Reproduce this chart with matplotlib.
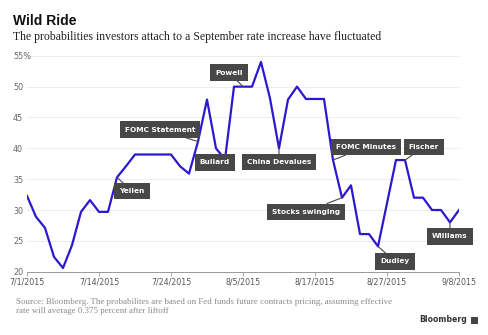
import matplotlib
matplotlib.use('Agg')
import matplotlib.pyplot as plt
from matplotlib.patches import Rectangle

# trading-day series, one value per session (percent)
probability = [32.3, 28.9, 27.1, 22.4, 20.6, 24.3, 29.7, 31.6, 29.7, 29.7,
               35.3, 37.1, 39.0, 39.0, 39.0, 39.0, 39.0, 37.1, 35.9, 41.1,
               47.9, 40.0, 38.2, 50.0, 50.0, 50.0, 54.0, 48.1, 40.0, 47.9,
               50.0, 48.0, 48.0, 48.0, 38.1, 32.0, 34.0, 26.1, 26.1, 24.1,
               31.1, 38.1, 38.1, 32.0, 32.0, 30.0, 30.0, 28.0, 30.0]
tick_idx = [0, 8, 16, 24, 32, 40, 48]
tick_labels = ['7/1/2015', '7/14/2015', '7/24/2015', '8/5/2015',
               '8/17/2015', '8/27/2015', '9/8/2015']
y_ticks = [20, 25, 30, 35, 40, 45, 50, 55]

# event callouts: (session index, label)
events = [(24, 'Powell'), (19, 'FOMC Statement'), (22, 'Bullard'),
          (10, 'Yellen'), (28, 'China Devalues'), (34, 'FOMC Minutes'),
          (42, 'Fischer'), (35, 'Stocks swinging'), (39, 'Dudley'),
          (47, 'Williams')]
# box offsets from the point, in pixels
offsets = {'Powell': (-14, 14), 'FOMC Statement': (-38, 12),
           'Bullard': (-10, -3), 'Yellen': (15, -14),
           'China Devalues': (0, -14), 'FOMC Minutes': (33, 13),
           'Fischer': (19, 13), 'Stocks swinging': (-36, -14),
           'Dudley': (17, -15), 'Williams': (0, -14)}

W, H = 488, 335
fig = plt.figure(figsize=(W / 100, H / 100), dpi=100)
fig.patch.set_facecolor('white')
ax = fig.add_axes([27 / W, 1 - 271.7 / H, 432 / W, (271.7 - 55.8) / H])

x = list(range(len(probability)))
ax.plot(x, probability, color='#2c18cf', lw=1.6, zorder=3)

ax.set_xlim(0, 48)
ax.set_ylim(20, 55)
ax.set_yticks(y_ticks)
ax.set_yticklabels([str(v) for v in y_ticks[:-1]] + ['55%'])
ax.set_xticks(tick_idx)
ax.set_xticklabels(tick_labels)
for lbl in ax.get_yticklabels():
    lbl.set_horizontalalignment('left')
ax.tick_params(axis='y', length=0, pad=10, labelsize=5.8, labelcolor='#666666')
ax.tick_params(axis='x', length=3, width=0.6, color='#999999', pad=1.5,
               labelsize=5.7, labelcolor='#555555')
ax.grid(axis='y', color='#ececec', lw=0.7, zorder=0)
for s in ['top', 'right', 'left']:
    ax.spines[s].set_visible(False)
ax.spines['bottom'].set_color('#999999')
ax.spines['bottom'].set_linewidth(0.7)

for idx, name in events:
    dx, dy = offsets[name]
    ax.annotate(name, xy=(idx, probability[idx]), xytext=(dx, dy),
                textcoords='offset pixels', ha='center', va='center',
                fontsize=5.3, fontweight='bold', color='white', zorder=5,
                bbox=dict(boxstyle='square,pad=0.7', fc='#474747', ec='none'),
                arrowprops=dict(arrowstyle='-', color='#474747', lw=0.8,
                                shrinkA=0, shrinkB=0))

fig.text(13 / W, 1 - 21 / H, 'Wild Ride', fontsize=10, fontweight='bold',
         family='Liberation Sans', color='#111111', va='center', ha='left')
fig.text(13 / W, 1 - 37 / H,
         'The probabilities investors attach to a September rate increase have fluctuated',
         fontsize=8.5, family='Liberation Serif', color='#222222',
         va='center', ha='left')
fig.text(16 / W, 1 - 306.5 / H,
         'Source: Bloomberg. The probabilites are based on Fed funds future contracts pricing, assuming effective\n'
         'rate will average 0.375 percent after liftoff',
         fontsize=6.4, family='Liberation Serif', color='#8a8a8a',
         va='center', ha='left', linespacing=1.2)
fig.text(467 / W, 1 - 320 / H, 'Bloomberg', fontsize=5.6, fontweight='bold',
         color='#333333', va='center', ha='right')
fig.patches.append(Rectangle((471 / W, 1 - 323.5 / H), 6.5 / W, 6.5 / H,
                             transform=fig.transFigure, fc='#444444', ec='none'))

fig.savefig('out.png', dpi=100)
